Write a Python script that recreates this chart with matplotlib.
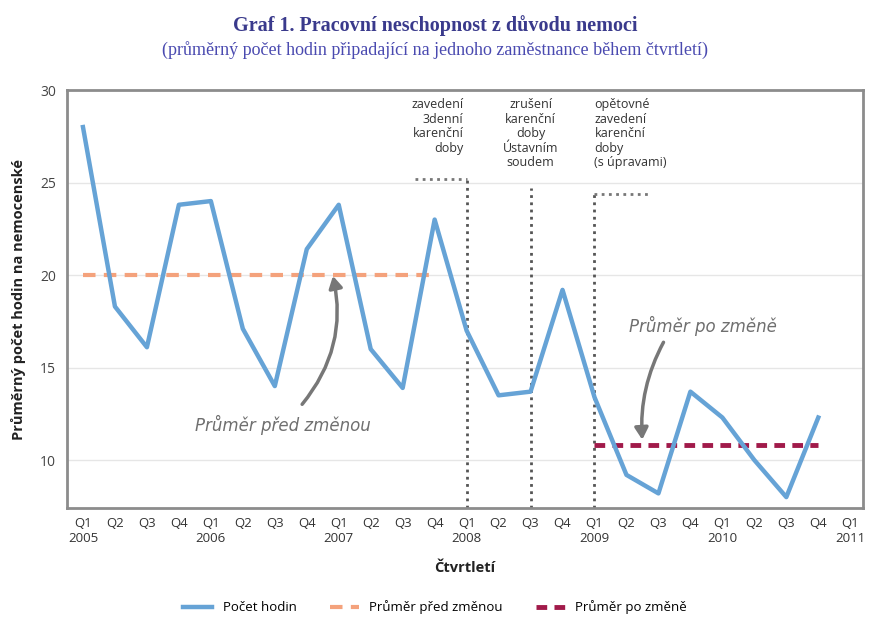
import matplotlib
matplotlib.use("Agg")
import matplotlib.pyplot as plt
from matplotlib.patches import FancyArrowPatch

# ---- data ----
quarters = ["Q1", "Q2", "Q3", "Q4"]
years = [2005, 2006, 2007, 2008, 2009, 2010, 2011]
hours = [28.0, 18.3, 16.1, 23.8, 24.0, 17.1, 14.0, 21.4,
         23.8, 16.0, 13.9, 23.0, 17.0, 13.5, 13.7, 19.2,
         13.4, 9.2, 8.2, 13.7, 12.3, 10.0, 8.0, 12.3]
mean_before = 20.0
mean_before_range = (0, 11)
mean_after = 10.8
mean_after_range = (16, 23)
event_idx = [12, 14, 16]
event_texts = ["zavedení\n3denní\nkarenční\ndoby",
               "zrušení\nkarenční\ndoby\nÚstavním\nsoudem",
               "opětovné\nzavedení\nkarenční\ndoby\n(s úpravami)"]

tick_labels = []
for i in range(25):
    q = quarters[i % 4]
    if i % 4 == 0:
        tick_labels.append(f"{q}\n{years[i // 4]}")
    else:
        tick_labels.append(q)

sans = ["Open Sans", "DejaVu Sans"]
plt.rcParams['font.family'] = sans

fig = plt.figure(figsize=(8.7, 6.19), dpi=100)
ax = fig.add_axes([0.077, 0.179, 0.915, 0.6755])

x = list(range(len(hours)))
ax.set_xlim(-0.5, 24.4)
ax.set_ylim(7.4, 30)

# grid
for yv in [10, 15, 20, 25]:
    ax.axhline(yv, color="#e6e6e6", lw=1, zorder=0)

# event lines
ev_tops = [25.2, 24.7, 24.4]
for xi, top in zip(event_idx, ev_tops):
    ax.plot([xi, xi], [7.4, top], color="#555555", lw=2, ls=(0, (1, 1.6)), zorder=2)
# small horizontal dotted marks under texts
ax.plot([10.4, 12.0], [25.2, 25.2], color="#777777", lw=2, ls=(0, (1, 1.6)), zorder=2)
ax.plot([16.0, 17.7], [24.4, 24.4], color="#777777", lw=2, ls=(0, (1, 1.6)), zorder=2)

# mean lines
ax.plot([mean_before_range[0], mean_before_range[1]], [mean_before, mean_before],
        color="#f4a27c", lw=3, ls=(0, (3, 2)), zorder=3, label="Průměr před změnou")
ax.plot([mean_after_range[0], mean_after_range[1]], [mean_after, mean_after],
        color="#a11a4a", lw=3.5, ls=(0, (2.2, 1.5)), zorder=3, label="Průměr po změně")

# main series
ax.plot(x, hours, color="#66a3d6", lw=3.2, zorder=4, label="Počet hodin")

# event texts
ax.text(11.9, 29.55, event_texts[0], ha="right", va="top", fontsize=9, color="#333333", linespacing=1.15)
ax.text(14.0, 29.55, event_texts[1], ha="center", va="top", fontsize=9, color="#333333", linespacing=1.15)
ax.text(16.0, 29.55, event_texts[2], ha="left", va="top", fontsize=9, color="#333333", linespacing=1.15)

# handwritten-style annotations
ax.text(6.25, 11.9, "Průměr před změnou", ha="center", va="center", fontsize=12,
        color="#6f6f6f", style="italic", family="DejaVu Sans")
ax.text(19.4, 17.25, "Průměr po změně", ha="center", va="center", fontsize=12,
        color="#6f6f6f", style="italic", family="DejaVu Sans")
arr1 = FancyArrowPatch((6.8, 12.9), (7.8, 20.1), connectionstyle="arc3,rad=0.25",
                       arrowstyle="-|>,head_width=4,head_length=7", color="#777777", lw=2.5, zorder=5)
ax.add_patch(arr1)
arr2 = FancyArrowPatch((18.2, 16.5), (17.5, 10.95), connectionstyle="arc3,rad=0.15",
                       arrowstyle="-|>,head_width=4,head_length=7", color="#777777", lw=2.5, zorder=5)
ax.add_patch(arr2)

# ticks
ax.set_xticks(range(25))
ax.set_xticklabels(tick_labels, fontsize=9.5, color="#333333")
ax.tick_params(axis="x", which="major", length=0, pad=6)
ax.set_xticks([0, 4, 8, 12, 16, 20, 24], minor=True)
ax.tick_params(axis="x", which="minor", length=6, direction="in", color="#555555", width=1.3)
ax.set_yticks([10, 15, 20, 25, 30])
ax.tick_params(axis="y", length=0, labelsize=10, labelcolor="#444444", pad=8)

for s in ax.spines.values():
    s.set_color("#8c8c8c")
    s.set_linewidth(2)

ax.set_xlabel("Čtvrtletí", fontsize=10.5, fontweight="bold", color="#222222", labelpad=12)
ax.set_ylabel("Průměrný počet hodin na nemocenské", fontsize=10.5, fontweight="bold",
              color="#222222", labelpad=10)

# title
fig.text(0.5, 0.958, "Graf 1. Pracovní neschopnost z důvodu nemoci", ha="center", va="center",
         fontsize=14.5, fontweight="bold", color="#3a3a8c", family=["Liberation Serif", "DejaVu Serif"])
fig.text(0.5, 0.919, "(průměrný počet hodin připadající na jednoho zaměstnance během čtvrtletí)",
         ha="center", va="center", fontsize=13, color="#4a4ab0", family=["Liberation Serif", "DejaVu Serif"])

# legend
handles, labels = ax.get_legend_handles_labels()
order = [2, 0, 1]
fig.legend([handles[i] for i in order], [labels[i] for i in order], loc="center",
           bbox_to_anchor=(0.5, 0.019), ncol=3, frameon=False, fontsize=9.5,
           handlelength=2.2, columnspacing=2.5)

fig.savefig("out.png", dpi=100)
